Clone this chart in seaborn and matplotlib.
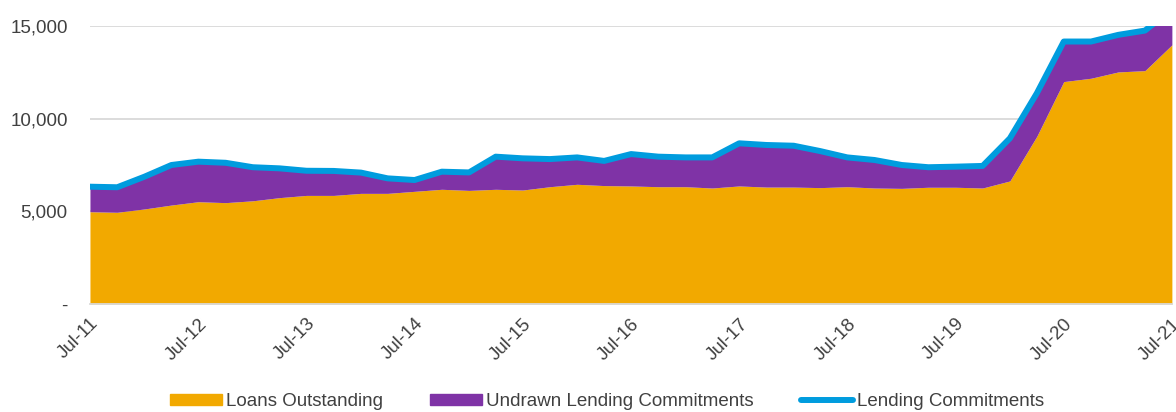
import numpy as np
import pandas as pd
import matplotlib
matplotlib.use("Agg")
import matplotlib.pyplot as plt
import seaborn as sns
from matplotlib.patches import Patch
from matplotlib.lines import Line2D

# quarterly, Jul-11 .. Jul-21
quarters = pd.date_range("2011-07-01", "2021-07-01", freq="QS-JUL")

loans_outstanding = [4980, 4950, 5130, 5340, 5520, 5470, 5570, 5740, 5860, 5860,
                     5970, 5970, 6080, 6190, 6130, 6190, 6150, 6330, 6460, 6390,
                     6370, 6330, 6330, 6260, 6370, 6310, 6310, 6280, 6330, 6260,
                     6240, 6300, 6300, 6260, 6640, 9050, 12000, 12180, 12520, 12590,
                     13980]

lending_commitments = [6330, 6300, 6870, 7500, 7680, 7620, 7380, 7320, 7190, 7180,
                       7090, 6780, 6690, 7140, 7100, 7950, 7860, 7820, 7910, 7720,
                       8090, 7950, 7910, 7910, 8670, 8580, 8540, 8250, 7910, 7770,
                       7500, 7380, 7410, 7450, 8940, 11370, 14160, 14160, 14520, 14750,
                       15900]

year_labels = ["Jul-11", "Jul-12", "Jul-13", "Jul-14", "Jul-15", "Jul-16",
               "Jul-17", "Jul-18", "Jul-19", "Jul-20", "Jul-21"]

df = pd.DataFrame({"date": quarters,
                   "loans": loans_outstanding,
                   "commitments": lending_commitments})

ORANGE = "#f2a900"
PURPLE = "#7f33a6"
BLUE = "#009cde"
TXT = "#404040"
FS = 13.5

sns.set_theme(style="white")
plt.rcParams["font.family"] = ["Liberation Sans", "DejaVu Sans"]

fig = plt.figure(figsize=(11.76, 4.12), dpi=100)
ax = fig.add_axes([0.0765, 0.262, 0.92, 0.675])

ax.fill_between(df["date"], 0, df["loans"], color=ORANGE, linewidth=0, zorder=2)
ax.fill_between(df["date"], df["loans"], df["commitments"], color=PURPLE, linewidth=0, zorder=2)
sns.lineplot(data=df, x="date", y="commitments", color=BLUE, linewidth=4.3, ax=ax,
             zorder=3, solid_joinstyle="round")

ax.set_xlim(df["date"].iloc[0], df["date"].iloc[-1])
ax.set_ylim(0, 15000)
ax.set_xlabel("")
ax.set_ylabel("")

ax.set_yticks([0, 5000, 10000, 15000])
ax.set_yticklabels(["-", "5,000", "10,000", "15,000"], fontsize=FS, color=TXT)
ax.yaxis.grid(True, color="#d9d9d9", linewidth=1.3)
ax.set_axisbelow(True)
ax.tick_params(axis="y", length=0, pad=16)

ax.set_xticks(df["date"].iloc[::4])
ax.set_xticklabels(year_labels, rotation=45, ha="right", rotation_mode="anchor",
                   fontsize=FS, color=TXT)
ax.tick_params(axis="x", length=5, width=1.2, color="#d9d9d9", pad=3)

for s in ["top", "right", "left"]:
    ax.spines[s].set_visible(False)
ax.spines["bottom"].set_color("#d9d9d9")
ax.spines["bottom"].set_linewidth(1.3)

handles = [Patch(color=ORANGE, label="Loans Outstanding"),
           Patch(color=PURPLE, label="Undrawn Lending Commitments"),
           Line2D([0], [0], color=BLUE, linewidth=4.3, solid_capstyle="round",
                  label="Lending Commitments")]
leg = fig.legend(handles=handles, loc="center", bbox_to_anchor=(0.516, 0.025), ncol=3,
                 frameon=False, fontsize=FS, handlelength=2.8, handleheight=0.55,
                 handletextpad=0.2, columnspacing=2.5)
for t in leg.get_texts():
    t.set_color(TXT)

fig.savefig("out.png", dpi=100)
